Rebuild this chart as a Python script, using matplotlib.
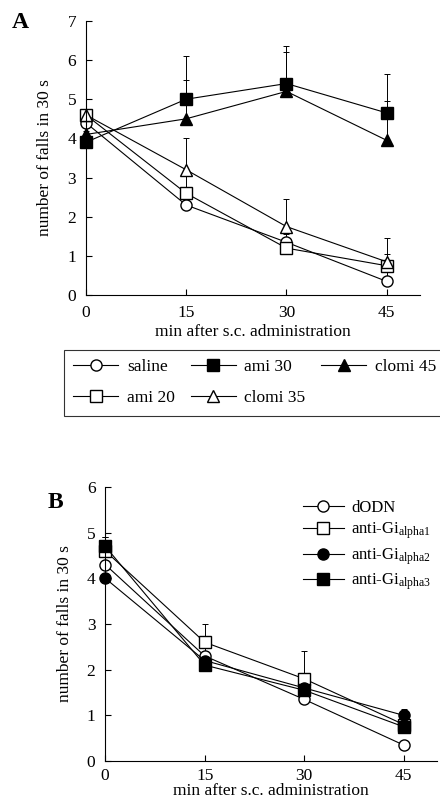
import matplotlib
matplotlib.use("Agg")
import matplotlib.pyplot as plt
from matplotlib.lines import Line2D
import numpy as np

plt.rcParams['font.family'] = ['Liberation Serif', 'DejaVu Serif']
plt.rcParams['mathtext.fontset'] = 'custom'
plt.rcParams['mathtext.rm'] = 'Liberation Serif'
plt.rcParams['mathtext.it'] = 'Liberation Serif:italic'

time = [0, 15, 30, 45]

# Panel A
saline = [4.4, 2.3, 1.35, 0.35]
saline_err = [0.2, 0.2, 0.2, 0.3]
ami20 = [4.6, 2.6, 1.2, 0.75]
ami20_err = [0.1, 0.5, 0.25, 0.3]
clomi35 = [4.6, 3.2, 1.75, 0.85]
clomi35_err = [0.1, 0.8, 0.7, 0.6]
ami30 = [3.9, 5.0, 5.4, 4.65]
ami30_err = [0.3, 1.1, 0.95, 1.0]
clomi45 = [4.1, 4.5, 5.2, 3.95]
clomi45_err = [0.3, 1.0, 1.0, 1.0]

# Panel B
dODN = [4.3, 2.3, 1.35, 0.35]
dODN_err = [0.2, 0.2, 0.2, 0.1]
alpha1 = [4.6, 2.6, 1.8, 0.8]
alpha1_err = [0.3, 0.4, 0.6, 0.3]
alpha2 = [4.0, 2.2, 1.6, 1.0]
alpha2_err = [0.2, 0.2, 0.2, 0.15]
alpha3 = [4.7, 2.1, 1.55, 0.75]
alpha3_err = [0.2, 0.2, 0.3, 0.2]

fig = plt.figure(figsize=(4.4, 8.02), dpi=100)

def style_ax(ax, ymax, xpad, xlabelpad):
    for s in ['top', 'right']:
        ax.spines[s].set_visible(False)
    for s in ['left', 'bottom']:
        ax.spines[s].set_linewidth(0.8)
    ax.set_xlim(0, 50)
    ax.set_ylim(0, ymax)
    ax.set_xticks(time)
    ax.set_yticks(range(0, ymax + 1))
    ax.tick_params(direction='in', length=4, width=0.8, labelsize=12.5, pad=7)
    ax.tick_params(axis='x', pad=xpad)
    ax.set_xlabel('min after s.c. administration', fontsize=12.5,
                  labelpad=xlabelpad)
    ax.set_ylabel('number of falls in 30 s', fontsize=12.5, labelpad=10)

def series(ax, y, err, marker, fc, label, ms=8):
    y = np.array(y)
    ax.errorbar(time, y, yerr=[np.zeros_like(y), np.array(err)], color='black',
                marker=marker, mfc=fc, mec='black', ms=ms, lw=0.8,
                elinewidth=0.7, capsize=2.5, capthick=0.7, clip_on=False)
    return Line2D([], [], color='black', lw=0.8, marker=marker, mfc=fc,
                  mec='black', ms=ms, label=label)

axA = fig.add_axes([0.195, 0.632, 0.76, 0.342])
style_ax(axA, 7, 7, 2)
h_sal = series(axA, saline, saline_err, 'o', 'white', 'saline')
h_a20 = series(axA, ami20, ami20_err, 's', 'white', 'ami 20')
h_a30 = series(axA, ami30, ami30_err, 's', 'black', 'ami 30')
h_c35 = series(axA, clomi35, clomi35_err, '^', 'white', 'clomi 35')
h_c45 = series(axA, clomi45, clomi45_err, '^', 'black', 'clomi 45')
fig.text(12 / 440, 1 - 22 / 802, 'A', fontsize=17, fontweight='bold',
         va='center', ha='left')

legA = fig.legend(handles=[h_sal, h_a20, h_a30, h_c35, h_c45], ncol=3,
                  loc='upper left', bbox_to_anchor=(0.125, 0.575),
                  frameon=True, fancybox=False, edgecolor='black',
                  fontsize=12.5, handlelength=2.6, columnspacing=0.9,
                  handletextpad=0.5, borderpad=0.55, labelspacing=0.85)
legA.get_frame().set_linewidth(0.8)

axB = fig.add_axes([0.239, 0.051, 0.754, 0.342])
style_ax(axB, 6, 5, -1)
hb = [
    series(axB, dODN, dODN_err, 'o', 'white', 'dODN'),
    series(axB, alpha1, alpha1_err, 's', 'white', r'anti-Gi$_{\mathrm{alpha1}}$'),
    series(axB, alpha2, alpha2_err, 'o', 'black', r'anti-Gi$_{\mathrm{alpha2}}$'),
    series(axB, alpha3, alpha3_err, 's', 'black', r'anti-Gi$_{\mathrm{alpha3}}$'),
]
fig.text(48 / 440, 1 - 502 / 802, 'B', fontsize=17, fontweight='bold',
         va='center', ha='left')
axB.legend(handles=hb, loc='upper left', bbox_to_anchor=(0.565, 0.99),
           frameon=False, fontsize=12, handlelength=2.5, handletextpad=0.4,
           labelspacing=0.3, borderaxespad=0.2)

fig.savefig('out.png', dpi=100)
